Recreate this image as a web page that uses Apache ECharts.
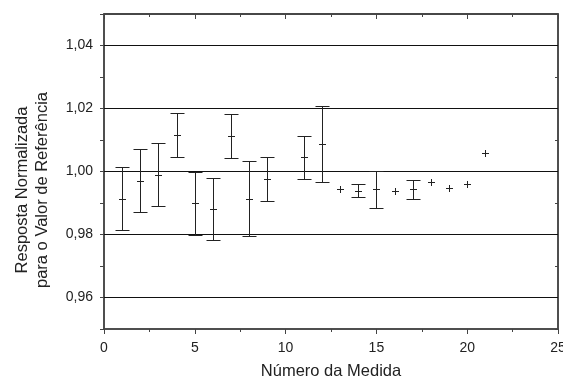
<!DOCTYPE html>
<html>
<head>
<meta charset="utf-8">
<script src="https://cdn.jsdelivr.net/npm/echarts@6/dist/echarts.min.js"></script>
<style>
  html, body { margin: 0; padding: 0; background: #fff; }
  #chart { width: 563px; height: 378px; }
</style>
</head>
<body>
<div id="chart"></div>
<script>
// measurement number, normalized response and error bar ends (null = no bar)
const measureNo = [1, 2, 3, 4, 5, 6, 7, 8, 9, 11, 12, 13, 14, 15, 16, 17, 18, 19, 20, 21];
const responses = [0.9913, 0.9970, 0.9990, 1.0116, 0.9900, 0.9880, 1.0113, 0.9913, 0.9977, 1.0045,
                   1.0087, 0.9943, 0.9938, 0.9943, 0.9937, 0.9943, 0.9967, 0.9947, 0.9959, 1.0058];
const upperBars = [1.0015, 1.0072, 1.0091, 1.0186, 1.0000, 0.9980, 1.0183, 1.0034, 1.0046, 1.0113,
                   1.0207, null, 0.9959, 1.0002, null, 0.9972, null, null, null, null];
const lowerBars = [0.9814, 0.9872, 0.9891, 1.0046, 0.9800, 0.9781, 1.0043, 0.9795, 0.9906, 0.9975,
                   0.9967, null, 0.9918, 0.9883, null, 0.9912, null, null, null, null];
const gridValues = [0.96, 0.98, 1.00, 1.02, 1.04];
const yTickLabels = ['0,96', '0,98', '1,00', '1,02', '1,04'];
const yMax = 1.05;
const xTitle = 'Número da Medida';
const yTitle = ['Resposta Normalizada', 'para o Valor de Referência'];

const FONT = '"Liberation Sans", Arial, sans-serif';
const INK = '#222';
const AXIS = '#444';

const chart = echarts.init(document.getElementById('chart'), null, { renderer: 'canvas' });

const seriesData = measureNo.map((n, i) => [
  n, responses[i],
  upperBars[i] == null ? responses[i] : upperBars[i],
  lowerBars[i] == null ? responses[i] : lowerBars[i]
]);

const px = v => Math.round(v) + 0.5;

function renderItem(params, api) {
  const x = api.value(0), y = api.value(1), hi = api.value(2), lo = api.value(3);
  const c = api.coord([x, y]);
  const cx = px(c[0]), cy = px(c[1]);
  const st = { stroke: INK, lineWidth: 1, fill: null };
  const kids = [
    { type: 'line', shape: { x1: cx - 3.5, y1: cy, x2: cx + 3.5, y2: cy }, style: st },
    { type: 'line', shape: { x1: cx, y1: cy - 3.5, x2: cx, y2: cy + 3.5 }, style: st }
  ];
  if (hi !== lo) {
    const top = px(api.coord([x, hi])[1]);
    const bot = px(api.coord([x, lo])[1]);
    kids.push({ type: 'line', shape: { x1: cx, y1: top, x2: cx, y2: bot }, style: st });
    kids.push({ type: 'line', shape: { x1: cx - 7, y1: top, x2: cx + 7, y2: top }, style: st });
    kids.push({ type: 'line', shape: { x1: cx - 7, y1: bot, x2: cx + 7, y2: bot }, style: st });
  }
  return { type: 'group', children: kids };
}

// only every second hundredth carries a label
function yLabel(v) {
  const k = Math.round(v * 100);
  const i = (k - 96) / 2;
  return (k % 2 === 0 && yTickLabels[i]) ? yTickLabels[i] : '';
}

const line = () => ({ show: true, onZero: false, lineStyle: { color: AXIS, width: 1.5 } });

chart.setOption({
  animation: false,
  backgroundColor: '#fff',
  grid: {
    left: 104, right: 5, top: 14, height: 315, outerBoundsMode: 'none',
    show: true, borderColor: AXIS, borderWidth: 1.5, backgroundColor: 'transparent'
  },
  xAxis: [
    {
      type: 'value', position: 'bottom', min: 0, max: 25, interval: 5,
      axisLine: line(),
      axisTick: { show: true, inside: false, length: 5, lineStyle: { color: AXIS } },
      minorTick: { show: true, splitNumber: 2, length: 3, lineStyle: { color: AXIS } },
      axisLabel: { color: INK, fontSize: 14, fontFamily: FONT, margin: 12 },
      splitLine: { show: false },
      name: xTitle, nameLocation: 'middle', nameGap: 34,
      nameTextStyle: { color: INK, fontSize: 16.5, fontFamily: FONT }
    },
    {
      type: 'value', position: 'top', min: 0, max: 25, interval: 5,
      axisLine: line(),
      axisTick: { show: true, inside: true, length: 5, lineStyle: { color: AXIS } },
      minorTick: { show: true, splitNumber: 2, length: 3, lineStyle: { color: AXIS } },
      axisLabel: { show: true, color: 'rgba(0,0,0,0)', fontSize: 1 },
      splitLine: { show: false }
    }
  ],
  yAxis: [
    {
      type: 'value', position: 'left', min: 0.95, max: yMax, interval: 0.01,
      axisLine: line(),
      axisTick: { show: true, inside: false, length: 4, lineStyle: { color: AXIS } },
      axisLabel: { color: INK, fontSize: 14, fontFamily: FONT, margin: 11, formatter: yLabel },
      splitLine: { show: false }
    },
    {
      type: 'value', position: 'right', min: 0.95, max: yMax, interval: 0.01,
      axisLine: line(),
      axisTick: { show: true, inside: true, length: 3, lineStyle: { color: AXIS } },
      axisLabel: { show: false },
      splitLine: { show: false }
    }
  ],
  graphic: [
    {
      type: 'text', x: 22, y: 190, rotation: Math.PI / 2,
      style: { text: yTitle[0], fill: INK, font: '16.5px ' + FONT, align: 'center', verticalAlign: 'middle' }
    },
    {
      type: 'text', x: 42, y: 190, rotation: Math.PI / 2,
      style: { text: yTitle[1], fill: INK, font: '16.5px ' + FONT, align: 'center', verticalAlign: 'middle' }
    }
  ],
  series: [
    {
      // horizontal reference lines
      type: 'line',
      xAxisIndex: 0, yAxisIndex: 0,
      data: [],
      silent: true,
      clip: false,
      markLine: {
        silent: true,
        symbol: ['none', 'none'],
        label: { show: false },
        lineStyle: { color: '#111', width: 1, type: 'solid' },
        emphasis: { disabled: true },
        data: gridValues.map(v => ({ yAxis: v }))
      }
    },
    {
      // top edge of the frame
      type: 'line',
      xAxisIndex: 0, yAxisIndex: 0,
      data: [],
      silent: true,
      clip: false,
      markLine: {
        silent: true,
        symbol: ['none', 'none'],
        label: { show: false },
        lineStyle: { color: AXIS, width: 1.5, type: 'solid' },
        emphasis: { disabled: true },
        data: [{ yAxis: yMax }]
      }
    },
    {
      type: 'custom',
      xAxisIndex: 0, yAxisIndex: 0,
      renderItem: renderItem,
      encode: { x: 0, y: [1, 2, 3] },
      data: seriesData,
      clip: false,
      z: 5
    }
  ]
});
</script>
</body>
</html>
